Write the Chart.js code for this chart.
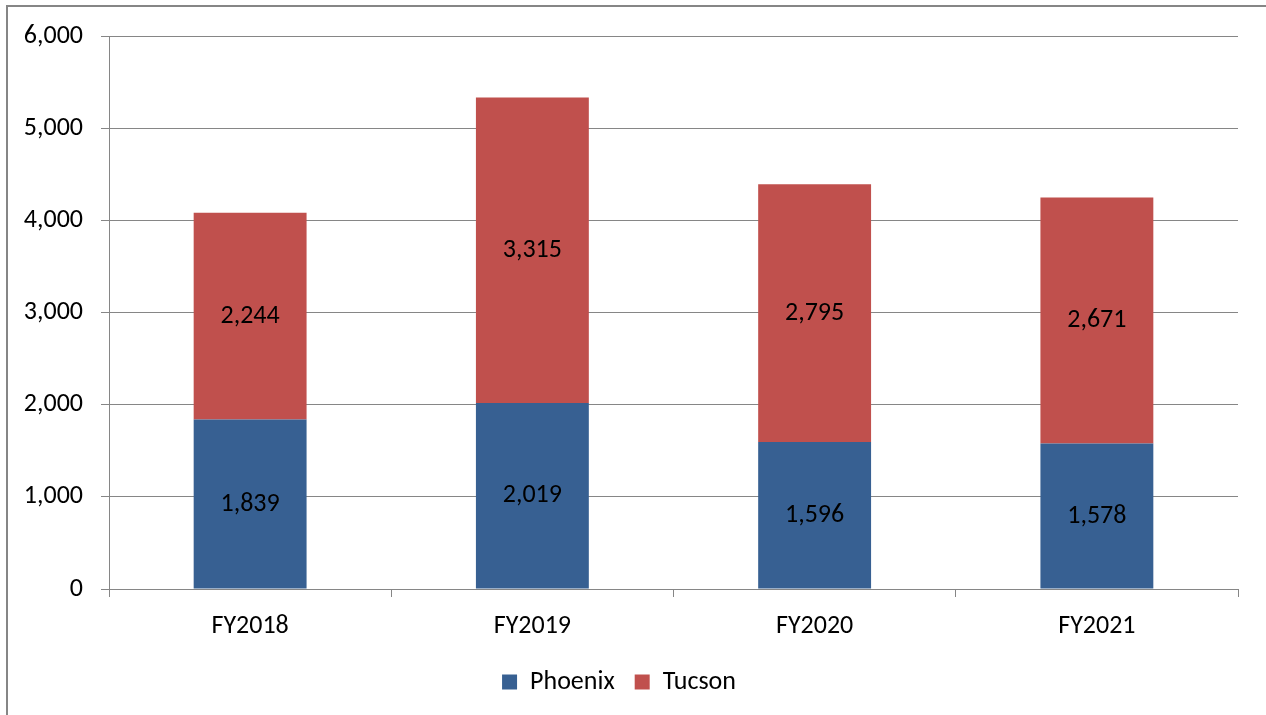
<!DOCTYPE html>
<html><head><meta charset="utf-8">
<script src="https://cdn.jsdelivr.net/npm/chart.js@4"></script>
<style>html,body{margin:0;padding:0;background:#fff}#wrap{width:1266px;height:715px}</style>
</head><body><div id="wrap"><canvas id="c" width="1266" height="715"></canvas></div>
<script>
const categories = ["FY2018", "FY2019", "FY2020", "FY2021"];
const phoenix = [1839, 2019, 1596, 1578];
const tucson = [2244, 3315, 2795, 2671];
const FONT = "Carlito, Lato, 'Open Sans', sans-serif";

const borderPlugin = {
  id: 'outerBorder',
  beforeDraw(chart) {
    const ctx = chart.ctx;
    ctx.save();
    ctx.strokeStyle = '#868686';
    ctx.lineWidth = 2;
    ctx.strokeRect(7, 6, 1300, 800);
    ctx.restore();
  }
};
const labelPlugin = {
  id: 'barLabels',
  afterDatasetsDraw(chart) {
    const ctx = chart.ctx;
    ctx.save();
    ctx.font = "26px " + FONT;
    ctx.fillStyle = '#000';
    ctx.textAlign = 'center';
    ctx.textBaseline = 'middle';
    chart.data.datasets.forEach((ds, i) => {
      chart.getDatasetMeta(i).data.forEach((bar, j) => {
        const y = (bar.y + bar.base) / 2;
        ctx.fillText(ds.data[j].toLocaleString('en-US'), bar.x, y);
      });
    });
    ctx.restore();
  }
};

new Chart(document.getElementById('c'), {
  type: 'bar',
  data: {
    labels: categories,
    datasets: [
      { label: 'Phoenix', data: phoenix, backgroundColor: '#376092', categoryPercentage: 0.4, barPercentage: 1 },
      { label: 'Tucson', data: tucson, backgroundColor: '#C0504D', categoryPercentage: 0.4, barPercentage: 1 }
    ]
  },
  options: {
    responsive: false,
    animation: false,
    layout: { padding: { left: 0, right: 28, top: 36, bottom: 10 } },
    plugins: {
      legend: {
        position: 'bottom',
        labels: { font: { size: 26, family: FONT }, color: '#000', boxWidth: 15, boxHeight: 15, padding: 20 }
      },
      tooltip: { enabled: false }
    },
    scales: {
      x: {
        stacked: true,
        grid: { offset: true, drawOnChartArea: false, drawTicks: true, tickLength: 8, color: '#868686' },
        border: { color: '#868686' },
        ticks: { font: { size: 26, family: FONT }, color: '#000', padding: 14 },
        afterFit(s) { s.height = 60; }
      },
      y: {
        stacked: true,
        min: 0, max: 6000,
        grid: { color: '#868686', tickLength: 8 },
        border: { color: '#868686' },
        ticks: { stepSize: 1000, font: { size: 26, family: FONT }, color: '#000', padding: 18,
          callback: v => v.toLocaleString('en-US') },
        afterFit(s) { s.width = 109; }
      }
    }
  },
  plugins: [borderPlugin, labelPlugin]
});
</script></body></html>
